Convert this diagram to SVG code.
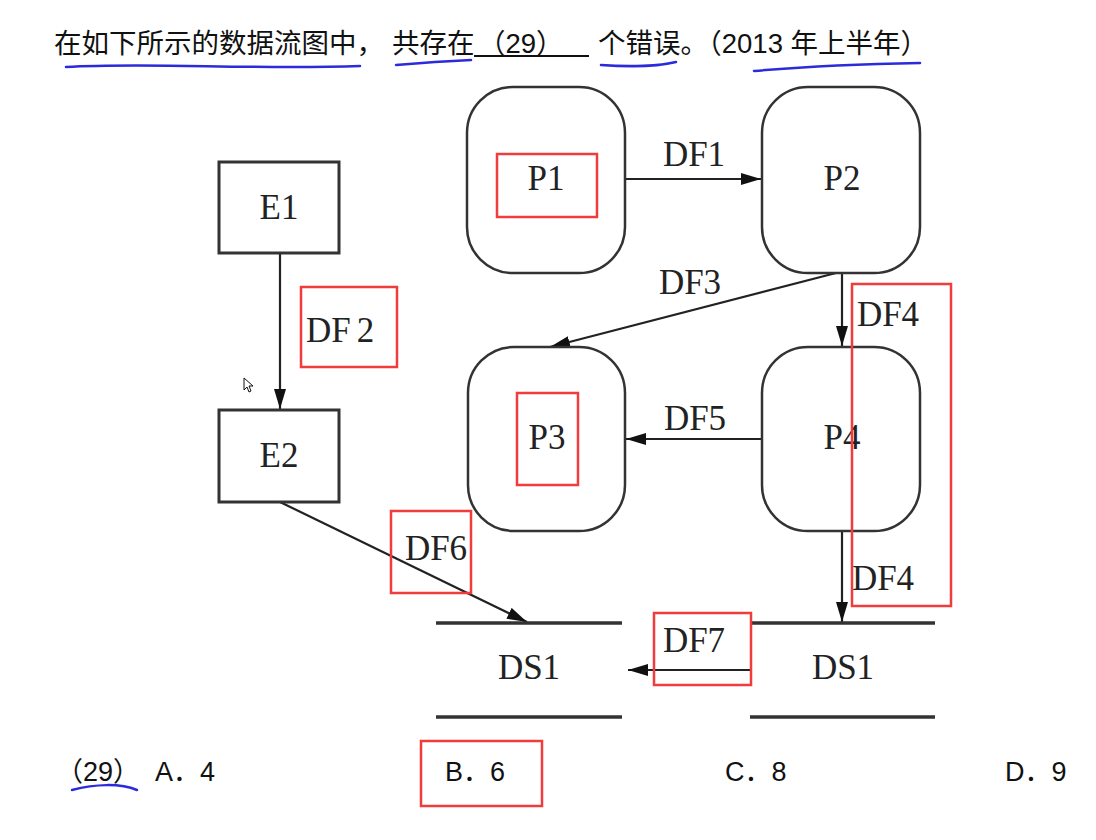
<svg xmlns="http://www.w3.org/2000/svg" width="1096" height="840" viewBox="0 0 1096 840">
<style>
.cn{font-family:"Liberation Sans","Noto Sans CJK SC",sans-serif;font-size:27.5px;fill:#111}
.opt{font-family:"Liberation Sans","Noto Sans CJK SC",sans-serif;font-size:27px;fill:#111}
.lb{font-family:"Liberation Serif",serif;font-size:35px;fill:#222;text-anchor:middle}
.box{fill:#fff;stroke:#333;stroke-width:3}
.proc{fill:#fff;stroke:#333;stroke-width:2.5}
.flow{stroke:#222;stroke-width:2.2;fill:none}
.ds{stroke:#333;stroke-width:3.5}
.red{fill:none;stroke:#f03c3c;stroke-width:2.5}
.blue{fill:none;stroke:#2b2bdc;stroke-width:2.5;stroke-linecap:round}
</style>
<defs>
<marker id="ah" markerWidth="20" markerHeight="12" refX="20" refY="6" orient="auto" markerUnits="userSpaceOnUse">
<path d="M0,0 L20,6 L0,12 Z" fill="#111"/>
</marker>
</defs>
<rect width="1096" height="840" fill="#fff"/>

<g id="question">
<text class="cn" x="54" y="53">在如下所示的数据流图中，</text>
<text class="cn" x="392" y="53">共存在</text>
<line x1="474" y1="56" x2="589" y2="56" stroke="#111" stroke-width="2"/>
<text class="cn" x="478" y="53">（29）</text>
<text class="cn" x="598" y="53">个错误。（2013 年上半年）</text>
<path class="blue" d="M66,67 C150,62 250,70 360,66"/>
<path class="blue" d="M396,65 C420,63 450,61 471,60"/>
<path class="blue" d="M601,65 C630,67 660,66 676,62"/>
<path class="blue" d="M754,71 C800,67 860,64 920,63"/>
</g>

<g id="connectors">
<line class="flow" x1="280" y1="253" x2="280" y2="409" marker-end="url(#ah)"/>
<line class="flow" x1="625" y1="179" x2="761" y2="179" marker-end="url(#ah)"/>
<line class="flow" x1="836" y1="273" x2="550" y2="347" marker-end="url(#ah)"/>
<line class="flow" x1="842" y1="273" x2="842" y2="346" marker-end="url(#ah)"/>
<line class="flow" x1="762" y1="439" x2="626" y2="439" marker-end="url(#ah)"/>
<line class="flow" x1="842" y1="531" x2="842" y2="622" marker-end="url(#ah)"/>
<line class="flow" x1="280" y1="502" x2="527" y2="622" marker-end="url(#ah)"/>
<line class="flow" x1="750" y1="670" x2="628" y2="670" marker-end="url(#ah)"/>
<text class="lb" x="694" y="166">DF1</text>
<text class="lb" x="340" y="342">DF<tspan dx="6">2</tspan></text>
<text class="lb" x="690" y="294">DF3</text>
<text class="lb" x="888" y="326">DF4</text>
<text class="lb" x="695" y="430">DF5</text>
<text class="lb" x="436" y="560">DF6</text>
<text class="lb" x="883" y="590">DF4</text>
<text class="lb" x="694" y="652">DF7</text>
</g>

<g id="E1"><rect class="box" x="219" y="162" width="120" height="91"/><text class="lb" x="279" y="219">E1</text></g>
<g id="E2"><rect class="box" x="219" y="410" width="120" height="92"/><text class="lb" x="279" y="467">E2</text></g>
<g id="P1"><rect class="proc" x="467" y="87" width="158" height="186" rx="46"/><text class="lb" x="546" y="190">P1</text></g>
<g id="P2"><rect class="proc" x="762" y="87" width="158" height="186" rx="46"/><text class="lb" x="842" y="190">P2</text></g>
<g id="P3"><rect class="proc" x="468" y="347" width="157" height="184" rx="46"/><text class="lb" x="547" y="449">P3</text></g>
<g id="P4"><rect class="proc" x="762" y="347" width="158" height="184" rx="46"/><text class="lb" x="842" y="449">P4</text></g>
<g id="DS1a"><line class="ds" x1="436" y1="623" x2="622" y2="623"/><line class="ds" x1="436" y1="717" x2="622" y2="717"/><text class="lb" x="529" y="679">DS1</text></g>
<g id="DS1b"><line class="ds" x1="750" y1="623" x2="935" y2="623"/><line class="ds" x1="750" y1="717" x2="935" y2="717"/><text class="lb" x="843" y="679">DS1</text></g>

<g id="annotations">
<rect class="red" x="497" y="154" width="100" height="63"/>
<rect class="red" x="301" y="287" width="96" height="80"/>
<rect class="red" x="852" y="284" width="99" height="322"/>
<rect class="red" x="517" y="393" width="61" height="92"/>
<rect class="red" x="391" y="511" width="80" height="82"/>
<rect class="red" x="654" y="613" width="97" height="72"/>
<rect class="red" x="421" y="741" width="121" height="65"/>
<path d="M244,378 L244,390 L247,387 L249,392 L251,391 L249,386 L253,386 Z" fill="#fff" stroke="#111" stroke-width="1"/>
</g>

<g id="options">
<text class="opt" x="56" y="781">（29）</text>
<text class="opt" x="155" y="781">A．4</text>
<text class="opt" x="445" y="781">B．6</text>
<text class="opt" x="725" y="781">C．8</text>
<text class="opt" x="1005" y="781">D．9</text>
<path class="blue" d="M72,790 C95,784 120,783 137,790"/>
</g>
</svg>
